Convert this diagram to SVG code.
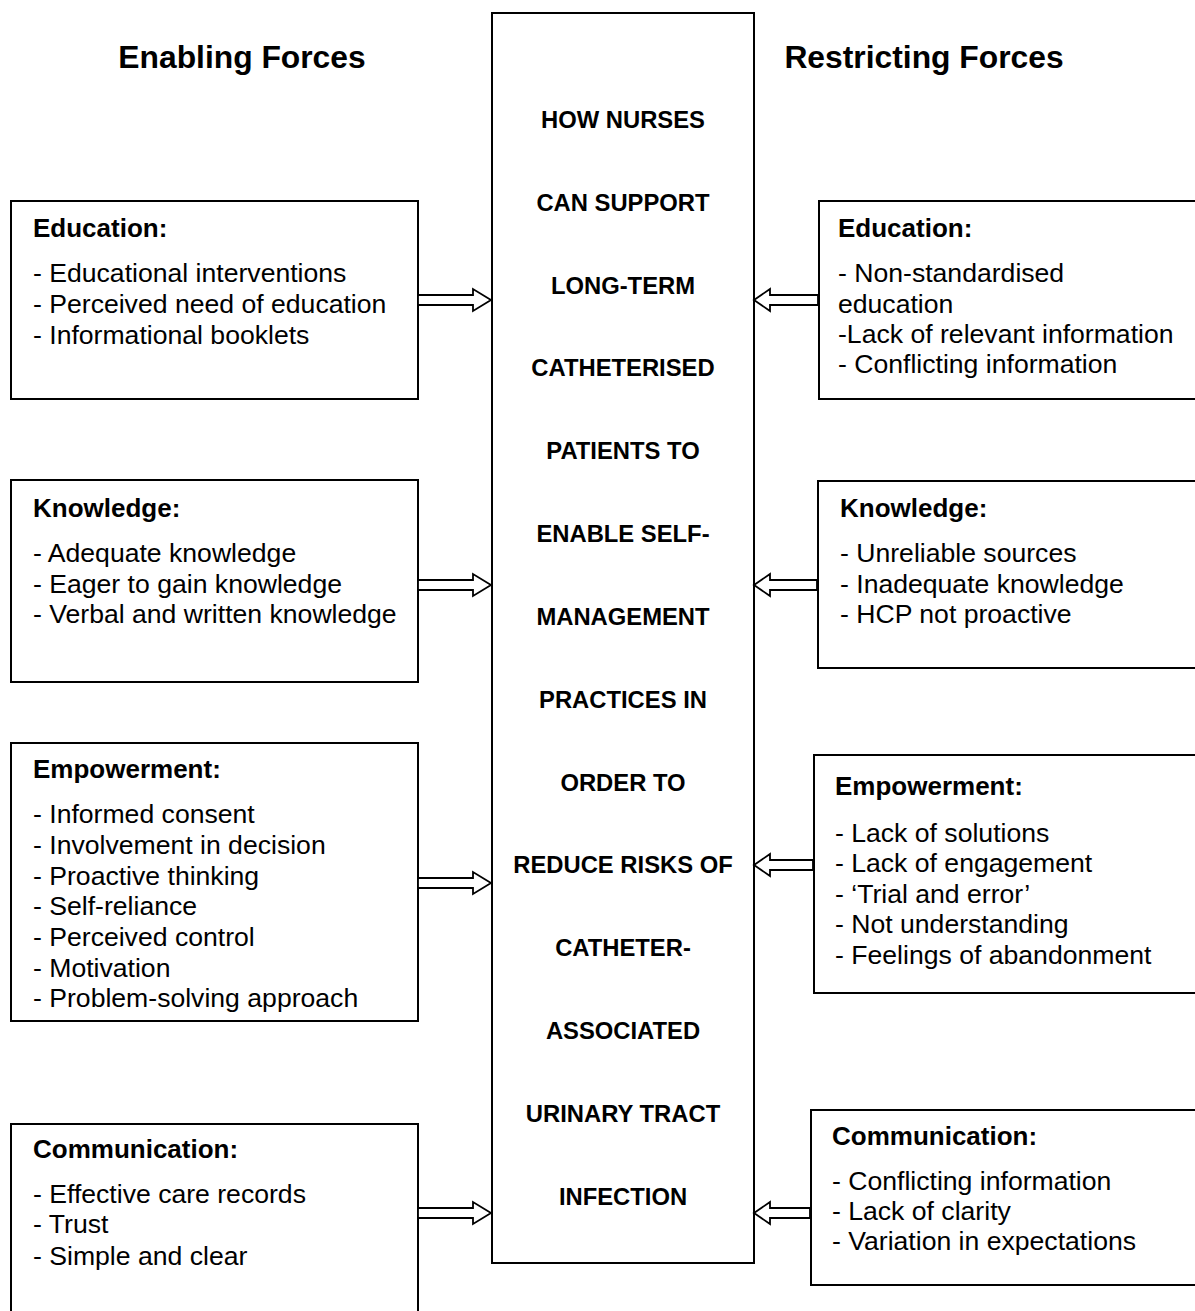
<svg xmlns="http://www.w3.org/2000/svg" width="1195" height="1311" viewBox="0 0 1195 1311">
<style>
.box{fill:#fff;stroke:#000;stroke-width:2}
.arr{fill:#fff;stroke:#000;stroke-width:1.8;stroke-linejoin:miter}
.title{font-family:"Liberation Sans",Arial,sans-serif;font-weight:bold;font-size:31.8px;text-anchor:middle}
.ctr{font-family:"Liberation Sans",Arial,sans-serif;font-weight:bold;font-size:23.8px;text-anchor:middle}
.hd{font-family:"Liberation Sans",Arial,sans-serif;font-weight:bold;font-size:26px}
.bd{font-family:"Liberation Sans",Arial,sans-serif;font-size:26.6px}
</style>
<rect width="1195" height="1311" fill="#fff"/>
<g id="titles">
<text class="title" x="242" y="68">Enabling Forces</text>
<text class="title" x="924" y="68">Restricting Forces</text>
</g>
<g id="center">
<rect class="box" x="492" y="13" width="262" height="1250"/>
<text class="ctr" x="623" y="128">HOW NURSES</text>
<text class="ctr" x="623" y="211">CAN SUPPORT</text>
<text class="ctr" x="623" y="294">LONG-TERM</text>
<text class="ctr" x="623" y="376">CATHETERISED</text>
<text class="ctr" x="623" y="459">PATIENTS TO</text>
<text class="ctr" x="623" y="542">ENABLE SELF-</text>
<text class="ctr" x="623" y="625">MANAGEMENT</text>
<text class="ctr" x="623" y="708">PRACTICES IN</text>
<text class="ctr" x="623" y="791">ORDER TO</text>
<text class="ctr" x="623" y="873">REDUCE RISKS OF</text>
<text class="ctr" x="623" y="956">CATHETER-</text>
<text class="ctr" x="623" y="1039">ASSOCIATED</text>
<text class="ctr" x="623" y="1122">URINARY TRACT</text>
<text class="ctr" x="623" y="1205">INFECTION</text>
</g>
<g id="enable-education">
<rect class="box" x="11" y="201" width="407" height="198"/>
<text class="hd" x="33" y="237">Education:</text>
<text class="bd" x="33" y="282">- Educational interventions</text>
<text class="bd" x="33" y="313">- Perceived need of education</text>
<text class="bd" x="33" y="344">- Informational booklets</text>
</g>
<g id="enable-knowledge">
<rect class="box" x="11" y="480" width="407" height="202"/>
<text class="hd" x="33" y="517">Knowledge:</text>
<text class="bd" x="33" y="562">- Adequate knowledge</text>
<text class="bd" x="33" y="593">- Eager to gain knowledge</text>
<text class="bd" x="33" y="623">- Verbal and written knowledge</text>
</g>
<g id="enable-empowerment">
<rect class="box" x="11" y="743" width="407" height="278"/>
<text class="hd" x="33" y="778">Empowerment:</text>
<text class="bd" x="33" y="823">- Informed consent</text>
<text class="bd" x="33" y="854">- Involvement in decision</text>
<text class="bd" x="33" y="885">- Proactive thinking</text>
<text class="bd" x="33" y="915">- Self-reliance</text>
<text class="bd" x="33" y="946">- Perceived control</text>
<text class="bd" x="33" y="977">- Motivation</text>
<text class="bd" x="33" y="1007">- Problem-solving approach</text>
</g>
<g id="enable-communication">
<rect class="box" x="11" y="1124" width="407" height="200"/>
<text class="hd" x="33" y="1158">Communication:</text>
<text class="bd" x="33" y="1203">- Effective care records</text>
<text class="bd" x="33" y="1233">- Trust</text>
<text class="bd" x="33" y="1265">- Simple and clear</text>
</g>
<g id="restrict-education">
<rect class="box" x="819" y="201" width="390" height="198"/>
<text class="hd" x="838" y="237">Education:</text>
<text class="bd" x="838" y="282">- Non-standardised</text>
<text class="bd" x="838" y="313">education</text>
<text class="bd" x="838" y="343">-Lack of relevant information</text>
<text class="bd" x="838" y="373">- Conflicting information</text>
</g>
<g id="restrict-knowledge">
<rect class="box" x="818" y="481" width="390" height="187"/>
<text class="hd" x="840" y="517">Knowledge:</text>
<text class="bd" x="840" y="562">- Unreliable sources</text>
<text class="bd" x="840" y="593">- Inadequate knowledge</text>
<text class="bd" x="840" y="623">- HCP not proactive</text>
</g>
<g id="restrict-empowerment">
<rect class="box" x="814" y="755" width="395" height="238"/>
<text class="hd" x="835" y="795">Empowerment:</text>
<text class="bd" x="835" y="842">- Lack of solutions</text>
<text class="bd" x="835" y="872">- Lack of engagement</text>
<text class="bd" x="835" y="903">- ‘Trial and error’</text>
<text class="bd" x="835" y="933">- Not understanding</text>
<text class="bd" x="835" y="964">- Feelings of abandonment</text>
</g>
<g id="restrict-communication">
<rect class="box" x="811" y="1110" width="398" height="175"/>
<text class="hd" x="832" y="1145">Communication:</text>
<text class="bd" x="832" y="1190">- Conflicting information</text>
<text class="bd" x="832" y="1220">- Lack of clarity</text>
<text class="bd" x="832" y="1250">- Variation in expectations</text>
</g>
<g id="connectors">
<path class="arr" d="M418,295 H473 V289 L491,300 L473,311 V305 H418 Z"/>
<path class="arr" d="M418,580 H473 V574 L491,585 L473,596 V590 H418 Z"/>
<path class="arr" d="M418,878 H473 V872 L491,883 L473,894 V888 H418 Z"/>
<path class="arr" d="M418,1208 H473 V1202 L491,1213 L473,1224 V1218 H418 Z"/>
<path class="arr" d="M818,295 H770 V289 L754,300 L770,311 V305 H818 Z"/>
<path class="arr" d="M817,580 H770 V574 L754,585 L770,596 V590 H817 Z"/>
<path class="arr" d="M813,860 H770 V854 L754,865 L770,876 V870 H813 Z"/>
<path class="arr" d="M810,1208 H770 V1202 L754,1213 L770,1224 V1218 H810 Z"/>
</g>
</svg>
